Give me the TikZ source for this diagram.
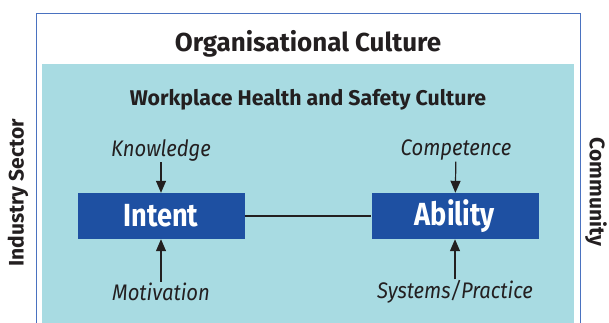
\documentclass[tikz,border=0pt]{standalone}
\usepackage{fontspec}
\setmainfont{Fira Sans}
\newfontfamily\condfont[FakeStretch=0.85]{Fira Sans}
\newfontfamily\slimfont[FakeStretch=0.9]{Fira Sans}
\usetikzlibrary{arrows.meta}
\definecolor{framecol}{HTML}{4A72C0}
\definecolor{cultcyan}{HTML}{A8DBE2}
\definecolor{boxblue}{HTML}{1E50A2}
\definecolor{inkgray}{HTML}{231F20}

\begin{document}
\begin{tikzpicture}[x=1pt,y=-1pt,
  main node/.style={rectangle,fill=boxblue,text=white,minimum width=167pt,minimum height=46pt,inner sep=0pt,font=\condfont\bfseries\fontsize{32}{32}\selectfont},
  factor/.style={text=inkgray,inner sep=1pt,font=\slimfont\itshape\fontsize{22.5}{22.5}\selectfont},
  heading/.style={text=inkgray,inner sep=0pt,font=\bfseries\fontsize{26}{26}\selectfont},
  side/.style={text=inkgray,inner sep=0pt,font=\bfseries\fontsize{21}{21}\selectfont},
  feeds/.style={draw=inkgray,line width=1.2pt,-{Triangle[length=12pt,width=10pt]}}]
  \useasboundingbox (0,0) rectangle (609,322);
  % culture layers
  \fill[cultcyan] (42,64) rectangle (574,330);
  \draw[framecol,line width=1pt] (36,330) -- (36,13) -- (580,13) -- (580,330);
  \node[heading] (org) at (308,44) {Organisational Culture};
  \node[heading,font=\bfseries\fontsize{21.3}{21.3}\selectfont] (whs) at (308,100) {Workplace Health and Safety Culture};
  \node[side,rotate=90] (industry) at (18,193) {Industry Sector};
  \node[side,rotate=-90] (community) at (596,192) {Community};
  % the two main boxes
  \node[main node] (intent) at (161,216) {Intent};
  \node[main node] (ability) at (455,216) {Ability};
  \node[factor] (knowledge) at (161,150) {Knowledge};
  \node[factor] (motivation) at (161,292) {Motivation};
  \node[factor] (competence) at (456,150) {Competence};
  \node[factor] (systems) at (455,292) {Systems/Practice};
  \path
    (intent) edge[draw=inkgray,line width=1.2pt] (ability)
    (knowledge) edge[feeds] (intent)
    (motivation) edge[feeds] (intent)
    (competence) edge[feeds] (ability)
    (systems) edge[feeds] (ability);
\end{tikzpicture}
\end{document}
